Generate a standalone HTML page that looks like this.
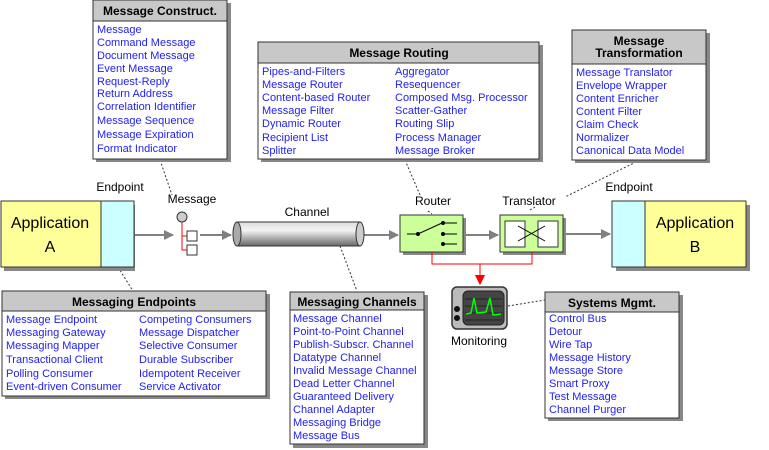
<!DOCTYPE html>
<html><head><meta charset="utf-8"><style>
html,body{margin:0;padding:0;background:#fff}
svg{display:block}
text{font-family:"Liberation Sans",Arial,sans-serif}
.h{font-size:12px;font-weight:bold;fill:#000;text-anchor:middle}
.i{font-size:11px;fill:#2222ee}
.l{font-size:12px;fill:#000;text-anchor:middle}
.box{fill:#fff;stroke:#333;stroke-width:1}
.hd{fill:#c8c8c8;stroke:#333;stroke-width:1}
.sh{fill:#888}
.dot{stroke:#333;stroke-width:1;stroke-dasharray:2,2;fill:none}
</style></head><body>
<svg width="769" height="450" viewBox="0 0 769 450">
<defs>
<linearGradient id="cyl" x1="0" y1="0" x2="0" y2="1">
<stop offset="0" stop-color="#ddd"/><stop offset="0.35" stop-color="#f4f4f4"/><stop offset="1" stop-color="#666"/>
</linearGradient>
<marker id="ar" markerWidth="10" markerHeight="10" refX="9" refY="5" orient="auto" markerUnits="userSpaceOnUse"><path d="M0,0 L10,5 L0,10 z" fill="#808080"/></marker>
<marker id="rr" markerWidth="10" markerHeight="10" refX="9" refY="5" orient="auto" markerUnits="userSpaceOnUse"><path d="M0,0 L10,5 L0,10 z" fill="#f00"/></marker>
</defs>

<!-- dotted connectors -->
<path class="dot" d="M160,160 L172,195"/>
<path class="dot" d="M405,160 L420,195"/>
<path class="dot" d="M640,160 L565,197"/>
<path class="dot" d="M118,267 L133,291"/>
<path class="dot" d="M340,246 L357,291"/>
<path class="dot" d="M508,306 L545,300"/>
<path class="dot" d="M428,211 L432,214"/>
<path class="dot" d="M530,210 L535,207"/>

<!-- Message Construct -->
<rect class="sh" x="96" y="3" width="135" height="159"/>
<rect class="box" x="93" y="0" width="134" height="159"/>
<rect class="hd" x="93" y="0" width="134" height="21"/>
<text class="h" x="160" y="15">Message Construct.</text>
<text class="i" x="97" y="33">Message</text>
<text class="i" x="97" y="46">Command Message</text>
<text class="i" x="97" y="59">Document Message</text>
<text class="i" x="97" y="72">Event Message</text>
<text class="i" x="97" y="85">Request-Reply</text>
<text class="i" x="97" y="97">Return Address</text>
<text class="i" x="97" y="110">Correlation Identifier</text>
<text class="i" x="97" y="124">Message Sequence</text>
<text class="i" x="97" y="138">Message Expiration</text>
<text class="i" x="97" y="152">Format Indicator</text>

<!-- Message Routing -->
<rect class="sh" x="261" y="45" width="282" height="117"/>
<rect class="box" x="258" y="42" width="281" height="117"/>
<rect class="hd" x="258" y="42" width="281" height="21"/>
<text class="h" x="399" y="57">Message Routing</text>
<g class="i">
<text x="262" y="75">Pipes-and-Filters</text>
<text x="262" y="88">Message Router</text>
<text x="262" y="101">Content-based Router</text>
<text x="262" y="114">Message Filter</text>
<text x="262" y="127">Dynamic Router</text>
<text x="262" y="141">Recipient List</text>
<text x="262" y="154">Splitter</text>
<text x="395" y="75">Aggregator</text>
<text x="395" y="88">Resequencer</text>
<text x="395" y="101">Composed Msg. Processor</text>
<text x="395" y="114">Scatter-Gather</text>
<text x="395" y="127">Routing Slip</text>
<text x="395" y="141">Process Manager</text>
<text x="395" y="154">Message Broker</text>
</g>

<!-- Message Transformation -->
<rect class="sh" x="575" y="33" width="135" height="130"/>
<rect class="box" x="572" y="30" width="134" height="130"/>
<rect class="hd" x="572" y="30" width="134" height="34"/>
<text class="h" x="639" y="45">Message</text>
<text class="h" x="639" y="57">Transformation</text>
<g class="i">
<text x="576" y="76">Message Translator</text>
<text x="576" y="89">Envelope Wrapper</text>
<text x="576" y="102">Content Enricher</text>
<text x="576" y="115">Content Filter</text>
<text x="576" y="128">Claim Check</text>
<text x="576" y="141">Normalizer</text>
<text x="576" y="154">Canonical Data Model</text>
</g>

<!-- Messaging Endpoints -->
<rect class="sh" x="5" y="294" width="265" height="105"/>
<rect class="box" x="2" y="291" width="264" height="105"/>
<rect class="hd" x="2" y="291" width="264" height="20"/>
<text class="h" x="134" y="306">Messaging Endpoints</text>
<g class="i">
<text x="6" y="323">Message Endpoint</text>
<text x="6" y="336">Messaging Gateway</text>
<text x="6" y="349">Messaging Mapper</text>
<text x="6" y="363">Transactional Client</text>
<text x="6" y="377">Polling Consumer</text>
<text x="6" y="390">Event-driven Consumer</text>
<text x="139" y="323">Competing Consumers</text>
<text x="139" y="336">Message Dispatcher</text>
<text x="139" y="349">Selective Consumer</text>
<text x="139" y="363">Durable Subscriber</text>
<text x="139" y="377">Idempotent Receiver</text>
<text x="139" y="390">Service Activator</text>
</g>

<!-- Messaging Channels -->
<rect class="sh" x="293" y="295" width="135" height="153"/>
<rect class="box" x="290" y="292" width="134" height="152"/>
<rect class="hd" x="290" y="292" width="134" height="18"/>
<text class="h" x="357" y="306">Messaging Channels</text>
<g class="i">
<text x="293" y="322">Message Channel</text>
<text x="293" y="335">Point-to-Point Channel</text>
<text x="293" y="348">Publish-Subscr. Channel</text>
<text x="293" y="361">Datatype Channel</text>
<text x="293" y="374">Invalid Message Channel</text>
<text x="293" y="387">Dead Letter Channel</text>
<text x="293" y="400">Guaranteed Delivery</text>
<text x="293" y="413">Channel Adapter</text>
<text x="293" y="426">Messaging Bridge</text>
<text x="293" y="439">Message Bus</text>
</g>

<!-- Systems Mgmt -->
<rect class="sh" x="548" y="295" width="135" height="126"/>
<rect class="box" x="545" y="292" width="134" height="126"/>
<rect class="hd" x="545" y="292" width="134" height="20"/>
<text class="h" x="612" y="307">Systems Mgmt.</text>
<g class="i">
<text x="549" y="322">Control Bus</text>
<text x="549" y="335">Detour</text>
<text x="549" y="348">Wire Tap</text>
<text x="549" y="361">Message History</text>
<text x="549" y="374">Message Store</text>
<text x="549" y="387">Smart Proxy</text>
<text x="549" y="400">Test Message</text>
<text x="549" y="413">Channel Purger</text>
</g>

<!-- App A -->
<rect class="sh" x="4" y="205" width="131" height="66"/>
<rect x="1" y="201" width="100" height="66" fill="#ffff99" stroke="#333"/>
<rect x="101" y="201" width="33" height="66" fill="#ccffff" stroke="#333"/>
<text x="50" y="228" style="font-size:16px;text-anchor:middle">Application</text>
<text x="50" y="252" style="font-size:16px;text-anchor:middle">A</text>
<text class="l" x="120" y="191">Endpoint</text>

<!-- App B -->
<rect class="sh" x="616" y="205" width="134" height="66"/>
<rect x="612" y="201" width="33" height="66" fill="#ccffff" stroke="#333"/>
<rect x="645" y="201" width="101" height="66" fill="#ffff99" stroke="#333"/>
<text x="695" y="228" style="font-size:16px;text-anchor:middle">Application</text>
<text x="695" y="252" style="font-size:16px;text-anchor:middle">B</text>
<text class="l" x="629" y="191">Endpoint</text>

<!-- arrows -->
<g stroke="#808080" stroke-width="2" fill="none">
<line x1="135" y1="235" x2="173" y2="235" marker-end="url(#ar)"/>
<line x1="200" y1="235" x2="231" y2="235" marker-end="url(#ar)"/>
<line x1="364" y1="235" x2="398" y2="235" marker-end="url(#ar)"/>
<line x1="466" y1="235" x2="498" y2="235" marker-end="url(#ar)"/>
<line x1="566" y1="234" x2="610" y2="234" marker-end="url(#ar)"/>
</g>

<!-- Message icon -->
<text class="l" x="192" y="203">Message</text>
<path d="M182,222 L182,250 L188,250 M182,236 L188,236" stroke="#f00" fill="none"/>
<circle cx="182" cy="217" r="5" fill="#ccc" stroke="#333"/>
<rect x="187" y="231" width="10" height="10" fill="#fff" stroke="#333"/>
<rect x="187" y="245" width="10" height="10" fill="#fff" stroke="#333"/>

<!-- Channel -->
<text class="l" x="307" y="216">Channel</text>
<rect x="237" y="222" width="123" height="24" fill="url(#cyl)" stroke="#333"/>
<ellipse cx="237" cy="234" rx="4" ry="12" fill="#aaa" stroke="#333"/>
<ellipse cx="360" cy="234" rx="4" ry="12" fill="#ccc" stroke="#333"/>

<!-- Router -->
<text class="l" x="433" y="205">Router</text>
<rect class="sh" x="403" y="218" width="63" height="37"/>
<rect x="400" y="215" width="63" height="37" fill="#ccff99" stroke="#333"/>
<path d="M407,234 L418,234 L442,223 M444,223 L457,223 M444,234 L457,234 M444,244 L457,244" stroke="#000" fill="none"/>
<circle cx="418" cy="234" r="2" fill="#000"/><circle cx="443" cy="223" r="2" fill="#000"/><circle cx="443" cy="234" r="2" fill="#000"/><circle cx="443" cy="244" r="2" fill="#000"/>

<!-- Translator -->
<text class="l" x="529" y="205">Translator</text>
<rect class="sh" x="503" y="218" width="63" height="37"/>
<rect x="500" y="215" width="63" height="37" fill="#ccff99" stroke="#333"/>
<rect x="505" y="221" width="20" height="26" fill="#fff" stroke="#333"/>
<rect x="538" y="221" width="20" height="26" fill="#fff" stroke="#333"/>
<path d="M518,226 L545,241 M518,241 L545,226" stroke="#000"/>

<!-- red to monitoring -->
<path d="M432,252 L432,264 L532,264 L532,252 M480,264 L480,284" stroke="#f00" fill="none" marker-end="url(#rr)"/>
<path d="M480,264 L480,284" stroke="#f00" marker-end="url(#rr)"/>

<!-- Monitoring -->
<rect x="452" y="287" width="55" height="42" rx="5" fill="#bbb" stroke="#333" stroke-width="1.5"/>
<rect x="463" y="291" width="41" height="34" rx="5" fill="#444" stroke="#222"/>
<path d="M465,299 H502 M465,306 H502 M465,313 H502 M465,320 H502" stroke="#222"/>
<path d="M466,314 L471,313 L474,298 L477,313 L486,312 L490,298 L493,315 L501,314" stroke="#0f0" stroke-width="1.5" fill="none"/>
<circle cx="457" cy="309" r="3" fill="#111"/><circle cx="457" cy="318" r="3" fill="#111"/>
<text class="l" x="479" y="345">Monitoring</text>
</svg>
</body></html>
